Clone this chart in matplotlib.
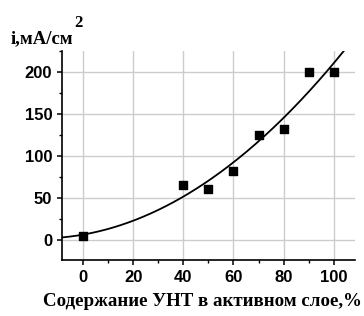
import matplotlib.pyplot as plt
import numpy as np
from matplotlib.ticker import MultipleLocator

content = [0, 40, 50, 60, 70, 80, 90, 100]
current = [5, 65, 61, 82, 125, 132, 200, 200]

coef = np.polyfit(content, current, 2)
x_fit = np.linspace(-8.5, 110, 200)
y_fit = np.polyval(coef, x_fit)

fig = plt.figure(figsize=(3.64, 3.16), dpi=100)
ax = fig.add_axes([62 / 364, 1 - 260 / 316, 293 / 364, 209 / 316])

ax.grid(True, color="#cccccc", linewidth=1)
ax.set_axisbelow(True)
ax.plot(x_fit, y_fit, color="black", linewidth=1.3)
ax.scatter(content, current, marker="s", s=34, color="black", zorder=3)

ax.set_xlim(-8.4, 108.5)
ax.set_ylim(-24, 225)
ax.xaxis.set_major_locator(MultipleLocator(20))
ax.xaxis.set_minor_locator(MultipleLocator(10))
ax.yaxis.set_major_locator(MultipleLocator(50))
ax.yaxis.set_minor_locator(MultipleLocator(25))
ax.spines["top"].set_visible(False)
ax.spines["right"].set_visible(False)
ax.spines["left"].set_linewidth(1.2)
ax.spines["bottom"].set_linewidth(1.2)
ax.tick_params(which="major", direction="out", length=3.5, width=1.1)
ax.tick_params(which="minor", direction="out", length=2.5, width=1)
for lab in ax.get_xticklabels() + ax.get_yticklabels():
    lab.set_fontfamily("Liberation Sans")
    lab.set_fontweight("bold")
    lab.set_fontsize(12)

fig.text(11 / 364, 1 - 43 / 316, "i,мА/см", family="Liberation Serif",
         fontweight="bold", fontsize=13.5, va="baseline", ha="left")
fig.text(74 / 364, 1 - 27 / 316, "2", family="Liberation Serif",
         fontweight="bold", fontsize=12, va="baseline", ha="left")
fig.text(202 / 364, 1 - 306 / 316, "Содержание УНТ в активном слое,%",
         family="Liberation Serif", fontweight="bold", fontsize=13.6, ha="center", va="baseline")

fig.savefig("out.png", dpi=100)
